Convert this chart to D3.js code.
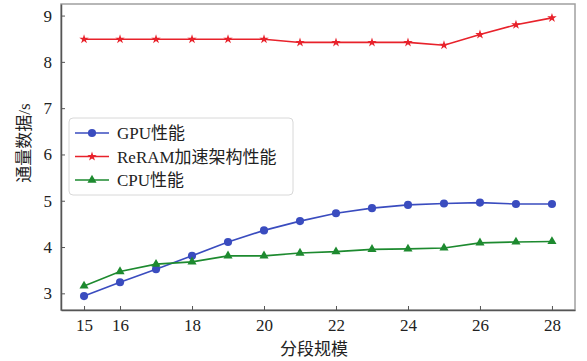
<!DOCTYPE html>
<html>
<head>
<meta charset="utf-8">
<script src="https://cdn.jsdelivr.net/npm/d3@7"></script>
<style>
  html, body { margin: 0; padding: 0; background: #fff; }
  svg { display: block; }
  text { font-family: "Liberation Serif", "Noto Sans CJK SC", serif; fill: #222; }
</style>
</head>
<body>
<svg id="chart" width="587" height="361"></svg>
<script>
// Segment scale on the x axis
const segments = [15, 16, 17, 18, 19, 20, 21, 22, 23, 24, 25, 26, 27, 28];

// Throughput of each implementation
const gpuValues   = [2.94, 3.24, 3.52, 3.81, 4.11, 4.36, 4.56, 4.73, 4.84, 4.91, 4.94, 4.96, 4.93, 4.93];
const reramValues = [8.49, 8.49, 8.49, 8.49, 8.49, 8.49, 8.42, 8.42, 8.42, 8.42, 8.36, 8.59, 8.80, 8.95];
const cpuValues   = [3.16, 3.47, 3.63, 3.68, 3.81, 3.81, 3.87, 3.90, 3.95, 3.96, 3.98, 4.09, 4.11, 4.12];

const seriesNames = ["GPU性能", "ReRAM加速架构性能", "CPU性能"];
const xTicks = [15, 16, 18, 20, 22, 24, 26, 28];
const yTicks = [3, 4, 5, 6, 7, 8, 9];

const xLabel = "分段规模";
const yLabel = "通量数据/s";

const series = [
  { name: seriesNames[0], values: gpuValues,   color: "#3a4cbf", symbol: d3.symbolCircle,   size: 52 },
  { name: seriesNames[1], values: reramValues, color: "#e8222b", symbol: d3.symbolStar,     size: 28 },
  { name: seriesNames[2], values: cpuValues,   color: "#1d8a2f", symbol: d3.symbolTriangle, size: 36 }
];

const svg = d3.select("#chart");
const plot = { left: 61, top: 4, right: 575, bottom: 310 };

const x = d3.scaleLinear().domain([14.36, 28.64]).range([plot.left, plot.right]);
const y = d3.scaleLinear().domain([2.64, 9.25]).range([plot.bottom, plot.top]);

// Frame around the plotting area
svg.append("rect")
  .attr("x", plot.left).attr("y", plot.top)
  .attr("width", plot.right - plot.left).attr("height", plot.bottom - plot.top)
  .attr("fill", "none").attr("stroke", "#a0a0a0").attr("stroke-width", 1.5);

// Axes with inward ticks
const xAxis = svg.append("g")
  .attr("transform", `translate(0,${plot.bottom})`)
  .call(d3.axisBottom(x).tickValues(xTicks).tickSizeInner(-4).tickSizeOuter(0).tickPadding(9).tickFormat(d3.format("d")));
const yAxis = svg.append("g")
  .attr("transform", `translate(${plot.left},0)`)
  .call(d3.axisLeft(y).tickValues(yTicks).tickSizeInner(-4).tickSizeOuter(0).tickPadding(9).tickFormat(d3.format("d")));

[xAxis, yAxis].forEach(g => {
  g.select(".domain").attr("stroke", "#555").attr("stroke-width", 1.5);
  g.selectAll(".tick line").attr("stroke", "#555");
  g.selectAll(".tick text")
    .style("font-family", "'Liberation Serif', serif")
    .style("font-size", "17px").attr("fill", "#333");
});

// Series lines and markers
const line = d3.line().x((d, i) => x(segments[i])).y(d => y(d));

series.forEach(s => {
  svg.append("path")
    .datum(s.values)
    .attr("d", line)
    .attr("fill", "none")
    .attr("stroke", s.color)
    .attr("stroke-width", 1.6);
  svg.append("g").selectAll("path")
    .data(s.values)
    .join("path")
    .attr("transform", (d, i) => `translate(${x(segments[i])},${y(d)})`)
    .attr("d", d3.symbol().type(s.symbol).size(s.size))
    .attr("fill", s.color);
});

// Legend
const legend = svg.append("g").attr("transform", "translate(69,118)");
legend.append("rect")
  .attr("width", 224).attr("height", 77).attr("rx", 4)
  .attr("fill", "#fff").attr("fill-opacity", 0.9)
  .attr("stroke", "#d8d8d8").attr("stroke-width", 1);

series.forEach((s, i) => {
  const row = legend.append("g").attr("transform", `translate(0,${15 + i * 23.5})`);
  row.append("line")
    .attr("x1", 6).attr("x2", 40)
    .attr("stroke", s.color).attr("stroke-width", 1.6);
  row.append("path")
    .attr("transform", "translate(23,0)")
    .attr("d", d3.symbol().type(s.symbol).size(s.size))
    .attr("fill", s.color);
  row.append("text")
    .attr("x", 48).attr("y", 6)
    .style("font-size", "17px")
    .text(s.name);
});

// Axis titles
svg.append("text")
  .attr("x", (plot.left + plot.right) / 2 - 4).attr("y", 355)
  .attr("text-anchor", "middle")
  .style("font-size", "17px")
  .text(xLabel);

svg.append("text")
  .attr("transform", "translate(30,143) rotate(-90)")
  .attr("text-anchor", "middle")
  .style("font-size", "17px")
  .text(yLabel);
</script>
</body>
</html>
